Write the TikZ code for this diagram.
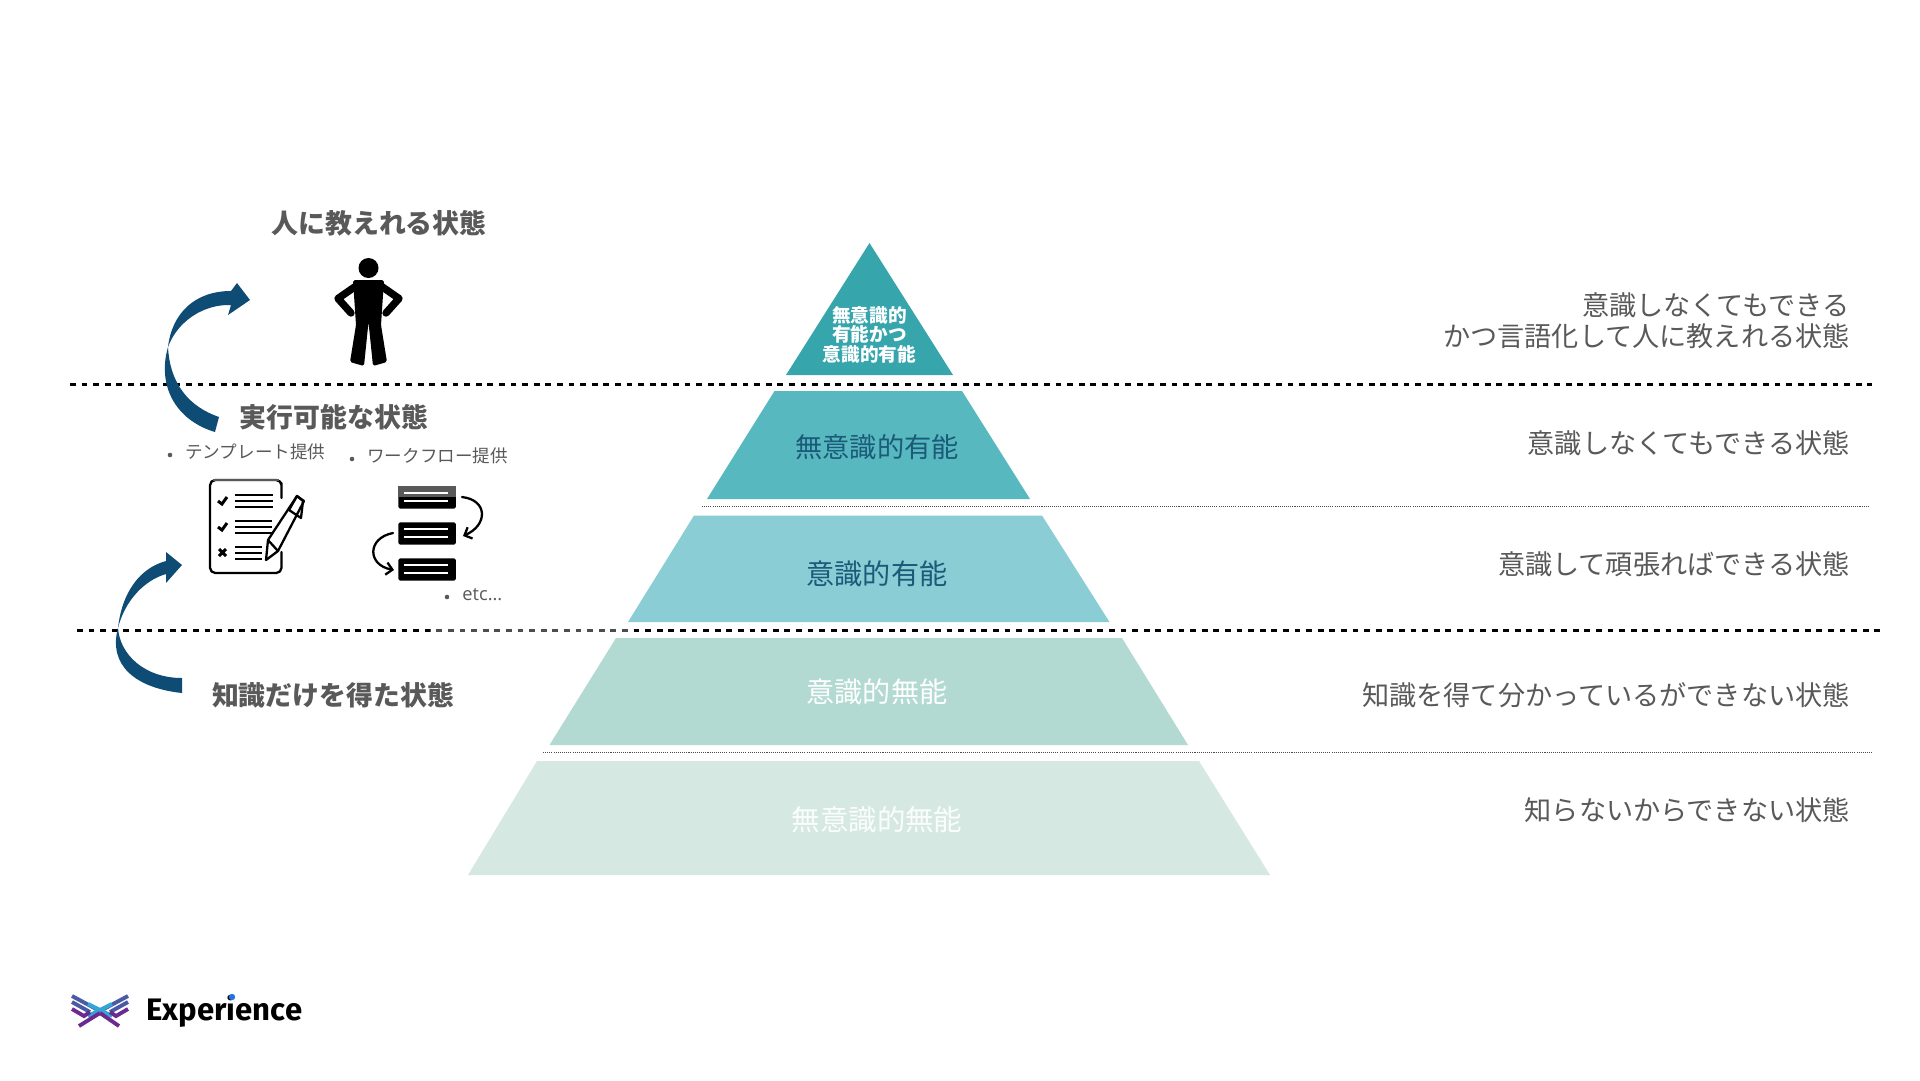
\documentclass[tikz,border=0pt]{standalone}
\usepackage{fontspec}
\usetikzlibrary{positioning,arrows.meta}
\setmainfont{Noto Sans CJK JP}
\newfontfamily\logofont{Fira Sans}
\newfontfamily\latinfont{Open Sans}
\definecolor{tonegray}{HTML}{595959}
\definecolor{arrowblue}{HTML}{0F4C75}
\definecolor{labelblue}{HTML}{1B5A78}
\definecolor{levelA}{HTML}{36A5AC}
\definecolor{levelB}{HTML}{57B9BF}
\definecolor{levelC}{HTML}{8ACDD5}
\definecolor{levelD}{HTML}{B2DAD2}
\definecolor{levelE}{HTML}{D5E9E2}
\definecolor{wingtop}{HTML}{4A5AA5}
\definecolor{wingmid}{HTML}{35A5D5}
\definecolor{winglow}{HTML}{6B2A90}
\tikzset{
  headlabel/.style={font=\fontsize{15.3}{18}\selectfont\bfseries,text=tonegray,inner sep=0pt},
  sidelabel/.style={font=\fontsize{15.45}{17.5}\selectfont,text=tonegray,anchor=east,align=right,inner sep=0pt},
  smalllabel/.style={font=\fontsize{10}{12}\selectfont,text=tonegray,anchor=west,inner sep=0pt},
  levellabel/.style={inner sep=0pt},
  boldrule/.style={line width=1.7pt,black,dash pattern=on 3.3pt off 3.3pt},
  thinrule/.style={line width=0.55pt,black!70,dash pattern=on 0.6pt off 0.6pt},
  bulletdot/.style={circle,fill=tonegray,inner sep=0pt,minimum size=2.6pt},
  wing/.style={line width=2.2pt},
  iconline/.style={black,line width=1.3pt,line cap=round,line join=round},
  listline/.style={black,line width=1.5pt},
  barline/.style={white,line width=1.1pt},
}
\begin{document}
\begin{tikzpicture}[x=0.02cm,y=-0.02cm]
    \useasboundingbox (0,0) rectangle (1920,1080);
    \fill[white] (0,0) rectangle (1920,1080);
    % Pyramid
    \fill[levelA] (869.5,243) -- (953,375) -- (786,375) -- cycle;
    \fill[levelB] (774.5,391) -- (962,391) -- (1030,499) -- (707,499) -- cycle;
    \fill[levelC] (694,515.5) -- (1042,515.5) -- (1109.5,622) -- (628,622) -- cycle;
    \fill[levelD] (616,638) -- (1122,638) -- (1188,745) -- (549.5,745) -- cycle;
    \fill[levelE] (537,761) -- (1199,761) -- (1270,875) -- (468,875) -- cycle;
    % Rules
    \draw[boldrule] (70,384) -- (1871.5,384);
    \draw[boldrule] (77,630) -- (1880,630);
    \fill[white,opacity=0.3] (430,625) rectangle (628,635);
    \draw[thinrule] (702,506.5) -- (1869,506.5);
    \draw[thinrule] (543,752) -- (1873,752);
    % Pyramid labels
    \node[font=\fontsize{10.6}{11.1}\selectfont\bfseries,text=white,align=center,inner sep=0pt] (levelAtext) at (869.5,334.5) {無意識的\\有能かつ\\意識的有能};
    \node[levellabel,font=\fontsize{15.5}{18}\selectfont,text=labelblue] (levelBtext) at (877,447) {無意識的有能};
    \node[levellabel,font=\fontsize{16}{18}\selectfont,text=labelblue] (levelCtext) at (877,574) {意識的有能};
    \node[levellabel,font=\fontsize{16}{18}\selectfont,text=white] (levelDtext) at (877,691.5) {意識的無能};
    \node[levellabel,font=\fontsize{16.2}{18}\selectfont,text=white!90!levelE] (levelEtext) at (877,819.5) {無意識的無能};
    % Right side
    \node[sidelabel] (stateA) at (1850,321) {意識しなくてもできる\\かつ言語化して人に教えれる状態};
    \node[sidelabel] (stateB) at (1850,443) {意識しなくてもできる状態};
    \node[sidelabel] (stateC) at (1850,564) {意識して頑張ればできる状態};
    \node[sidelabel] (stateD) at (1850,695) {知識を得て分かっているができない状態};
    \node[sidelabel] (stateE) at (1850,810) {知らないからできない状態};
    % Left side
    \node[headlabel] (teach) at (379,223) {人に教えれる状態};
    \node[headlabel] (doable) at (334,417) {実行可能な状態};
    \node[headlabel] (known) at (333,695) {知識だけを得た状態};
    \node[bulletdot] (dotA) at (170,455) {};
    \node[smalllabel] (template) at (185,452) {テンプレート提供};
    \node[bulletdot] (dotB) at (352,459) {};
    \node[smalllabel] (workflow) at (367,456) {ワークフロー提供};
    \node[bulletdot] (dotC) at (447,597) {};
    \node[smalllabel,font=\fontsize{10.4}{12}\latinfont] (etc) at (462,595) {etc...};
    % Curved arrows
    \fill[arrowblue] (168,347) .. controls (172,313) and (195,291) .. (231,291)
        -- (237,283) -- (250,300) -- (228,315) -- (231,305)
        .. controls (205,304) and (178,320) .. (168,347)
        .. controls (170,385) and (190,407) .. (219,417) -- (215,432)
        .. controls (175,420) and (157,385) .. (168,347) -- cycle;
    \fill[arrowblue] (118,628) .. controls (122,592) and (140,568) .. (166,561)
        -- (166,552) -- (182,565) -- (166,583) -- (166,574)
        .. controls (145,580) and (125,600) .. (118,628)
        .. controls (120,655) and (145,678) .. (182,678) -- (182,693)
        .. controls (135,688) and (108,665) .. (118,628) -- cycle;
    % Person
    \fill[black] (368.5,268) circle (10);
    \fill[black,rounded corners=1pt] (353,280) -- (384,280) -- (381,325) -- (387,362)
        -- (373,366) -- (368.5,322) -- (364,366) -- (350,362) -- (356,325) -- cycle;
    \draw[black,line width=4.2pt,line cap=round,line join=round] (356,286) -- (338,298.5) -- (351,313);
    \draw[black,line width=4.2pt,line cap=round,line join=round] (381,286) -- (399,298.5) -- (386,313);
    % Template icon
    \draw[iconline] (281.5,498) -- (281.5,483) [rounded corners=3pt] -- (281.5,480) -- (210,480) -- (210,573) -- (281.5,573) -- (281.5,552);
    \draw[tonegray,line width=1.3pt] (213,480) -- (279,480);
    \foreach \y in {495,501,507}
        \draw[listline] (235,\y) -- (273,\y);
    \foreach \y in {521,527,533}
        \draw[listline] (235,\y) -- (272,\y);
    \foreach \y in {547,553,559}
        \draw[listline] (235,\y) -- (262,\y);
    \foreach \y in {501,527}
        \draw[black,line width=1.7pt] (218,\y) -- (222,\y+3) -- (227,\y-4);
    \draw[black,line width=1.7pt] (219,549) -- (226,556) (226,549) -- (219,556);
    \draw[iconline,fill=white] (266,560) -- (268,540) -- (297,496) -- (304,501) -- (278,551) -- cycle;
    \draw[iconline] (289,510) -- (301,518) -- (303,501) -- (297,496) -- (289,510);
    \draw[iconline] (268,540) -- (278,551);
    % Workflow icon
    \foreach \y/\name in {486/barA,522/barB,558/barC}{
        \node[fill=black,rounded corners=1pt,minimum width=32.8pt,minimum height=12.7pt,inner sep=0pt,anchor=north west] (\name) at (398,\y) {};
        \draw[barline] (404,\y+7) -- (448,\y+7);
        \draw[barline] (404,\y+15) -- (448,\y+15);
    }
    \fill[tonegray] (398,486) rectangle (456,497);
    \draw[barline] (404,493) -- (448,493);
    \draw[iconline,-{Straight Barb[length=3.5pt,width=7pt]}] (462,497) .. controls (488,500) and (488,525) .. (463,536);
    \draw[iconline,-{Straight Barb[length=3.5pt,width=7pt]}] (393,533) .. controls (367,538) and (367,565) .. (394,570);
    % Logo
    \draw[wing,wingtop] (72,996) -- (100,1011);
    \draw[wing,wingtop] (128,996) -- (100,1011);
    \draw[wing,wingmid] (88,1004) -- (112,1016);
    \draw[wing,wingmid] (112,1004) -- (88,1016);
    \draw[wing,winglow] (100,1013) -- (119,1026);
    \draw[wing,winglow] (100,1013) -- (79,1026);
    \draw[wing,wingtop] (72,1002) -- (90,1012);
    \draw[wing,wingtop] (128,1002) -- (110,1012);
    \draw[wing,winglow] (72,1009) -- (84,1016) -- (90,1012);
    \draw[wing,winglow] (128,1009) -- (116,1016) -- (110,1012);
    \node[font=\fontsize{17.7}{20}\logofont\bfseries,text=black,anchor=west,inner sep=0pt] (brand) at (146,1011) {Experience};
    \fill[wingmid!70!blue] (232,997) circle (3.2);
\end{tikzpicture}
\end{document}
